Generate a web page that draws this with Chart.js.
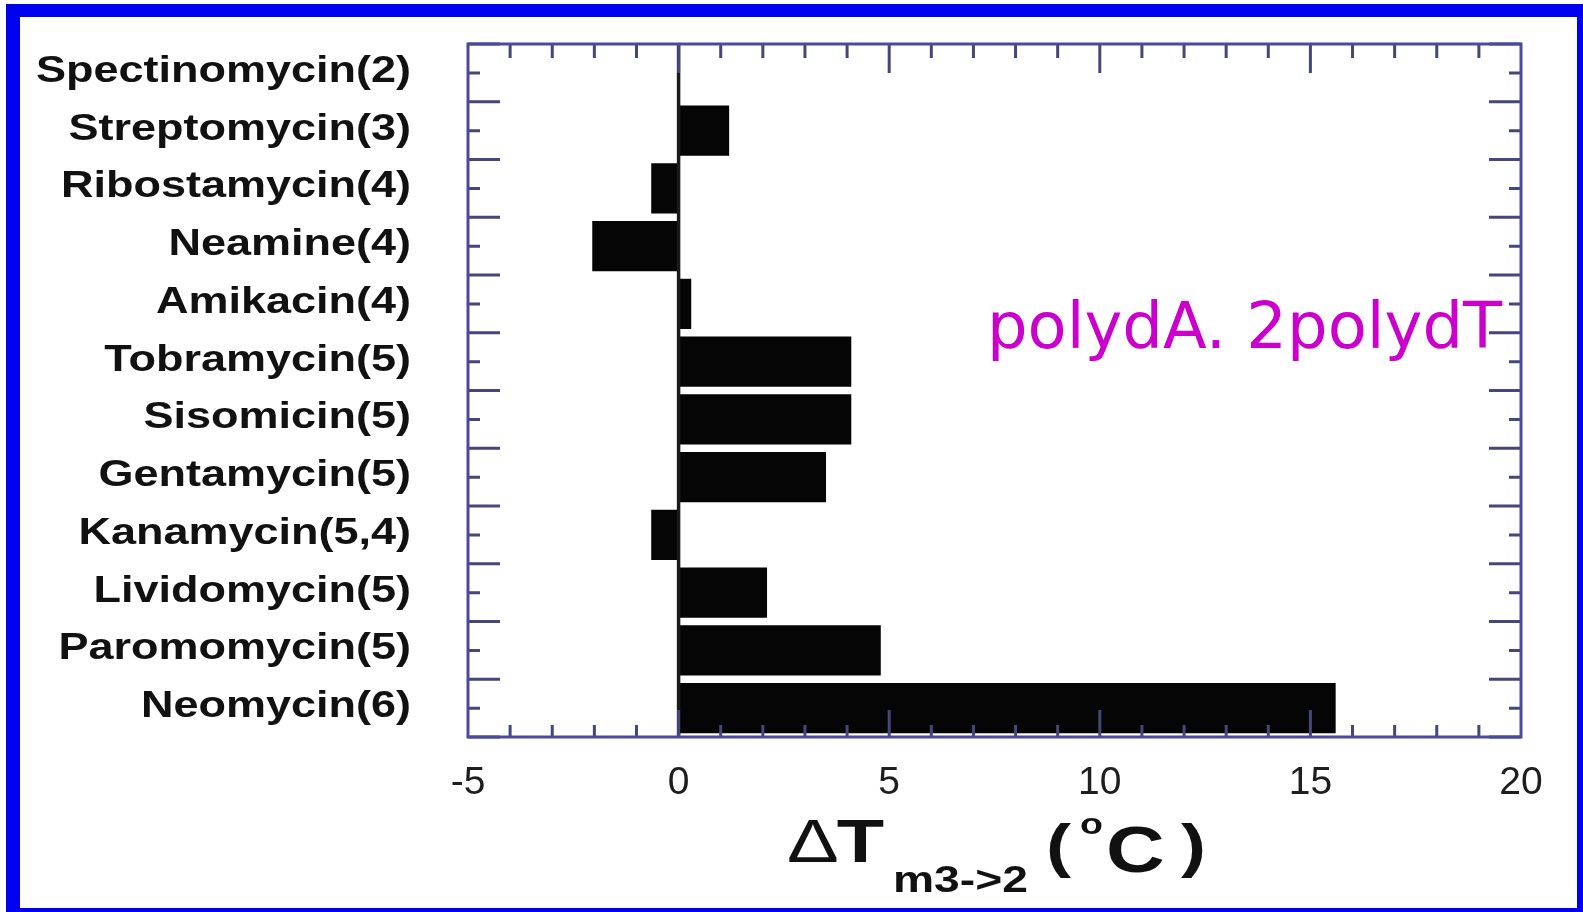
<!DOCTYPE html>
<html>
<head>
<meta charset="utf-8">
<title>polydA.2polydT</title>
<script src="https://cdn.jsdelivr.net/npm/chart.js@4/dist/chart.umd.min.js"></script>
<style>
  html, body { margin: 0; padding: 0; background: #fff; }
  #wrap { position: relative; width: 1583px; height: 912px; }
</style>
</head>
<body>
<div id="wrap"><canvas id="myBarChart"></canvas></div>
<script>
// data
let drugNames = [
  "Spectinomycin(2)", "Streptomycin(3)", "Ribostamycin(4)", "Neamine(4)",
  "Amikacin(4)", "Tobramycin(5)", "Sisomicin(5)", "Gentamycin(5)",
  "Kanamycin(5,4)", "Lividomycin(5)", "Paromomycin(5)", "Neomycin(6)"
];
let deltaTm = [0, 1.2, -0.65, -2.05, 0.3, 4.1, 4.1, 3.5, -0.65, 2.1, 4.8, 15.6];
let xTickValues = [-5, 0, 5, 10, 15, 20];
let annotationText = "polydA. 2polydT";

let frameColor = "#4a4a9c";
let tickColor = "#46467a";
let stretch = 1.25; // the scanned figure is a bit wide

function stretchedText(ctx, text, x, y, font, align) {
  ctx.save();
  ctx.font = font;
  let w = ctx.measureText(text).width * stretch;
  let left = align === "right" ? x - w : x;
  ctx.translate(left, y);
  ctx.scale(stretch, 1);
  ctx.textAlign = "left";
  ctx.fillText(text, 0, 0);
  ctx.restore();
  return w;
}

const framePlugin = {
  id: "framePlugin",
  beforeDraw(chart) {
    let ctx = chart.ctx;
    ctx.save();
    ctx.fillStyle = "#ffffff";
    ctx.fillRect(0, 0, chart.width, chart.height);
    // blue border of the slide
    ctx.fillStyle = "#0000f0";
    ctx.fillRect(6, 4, chart.width - 6, 13);
    ctx.fillRect(6, 4, 14, chart.height - 4);
    ctx.fillRect(chart.width - 6, 4, 6, chart.height - 4);
    ctx.fillRect(6, chart.height - 4, chart.width - 6, 4);
    ctx.restore();
  },
  afterDatasetsDraw(chart) {
    let ctx = chart.ctx;
    let area = chart.chartArea;
    let xs = chart.scales.x;
    let ys = chart.scales.y;

    ctx.save();
    // zero line
    let x0 = xs.getPixelForValue(0);
    ctx.strokeStyle = "#1a1a1a";
    ctx.lineWidth = 3.5;
    ctx.beginPath();
    ctx.moveTo(x0, area.top);
    ctx.lineTo(x0, area.bottom);
    ctx.stroke();

    // x ticks, top and bottom, pointing inward
    ctx.strokeStyle = tickColor;
    ctx.lineWidth = 3;
    for (let v = xs.min + 1; v < xs.max; v++) {
      let px = xs.getPixelForValue(v);
      let major = v % 5 === 0;
      ctx.beginPath();
      ctx.moveTo(px, area.top);
      ctx.lineTo(px, area.top + (major ? 29 : 14));
      ctx.moveTo(px, area.bottom);
      ctx.lineTo(px, area.bottom - (major ? 27 : 12));
      ctx.stroke();
    }

    // y ticks, left and right: long at category edges, short at centers
    for (let i = 0; i <= drugNames.length; i++) {
      let py = ys.getPixelForValue(i - 0.5);
      ctx.beginPath();
      ctx.moveTo(area.left, py);
      ctx.lineTo(area.left + 32, py);
      ctx.moveTo(area.right, py);
      ctx.lineTo(area.right - 32, py);
      ctx.stroke();
    }
    for (let i = 0; i < drugNames.length; i++) {
      let py = ys.getPixelForValue(i);
      ctx.beginPath();
      ctx.moveTo(area.left, py);
      ctx.lineTo(area.left + 12, py);
      ctx.moveTo(area.right, py);
      ctx.lineTo(area.right - 12, py);
      ctx.stroke();
    }

    // frame
    ctx.strokeStyle = frameColor;
    ctx.lineWidth = 3;
    ctx.strokeRect(area.left, area.top, area.right - area.left, area.bottom - area.top);

    // category labels
    ctx.fillStyle = "#111";
    ctx.textBaseline = "alphabetic";
    for (let i = 0; i < drugNames.length; i++) {
      let py = ys.getPixelForValue(i);
      stretchedText(ctx, drugNames[i], area.left - 57, py + 9,
        'bold 36px "Liberation Sans", Arial, sans-serif', "right");
    }

    // x axis title: ΔT m3->2 (°C)
    let tx = 787;
    let w = stretchedText(ctx, "\u0394", tx, 862, '62px "Liberation Sans", Arial, sans-serif', "left");
    stretchedText(ctx, "T", tx + w - 2, 862, 'bold 62px "Liberation Sans", Arial, sans-serif', "left");
    stretchedText(ctx, "m3->2", 893, 892, 'bold 37px "Liberation Sans", Arial, sans-serif', "left");
    stretchedText(ctx, "(", 1046, 866, 'bold 60px "Liberation Sans", Arial, sans-serif', "left");
    stretchedText(ctx, "o", 1080, 834, 'bold 30px "Liberation Sans", Arial, sans-serif', "left");
    stretchedText(ctx, "C", 1106, 872, 'bold 65px "Liberation Sans", Arial, sans-serif', "left");
    stretchedText(ctx, ")", 1181, 866, 'bold 60px "Liberation Sans", Arial, sans-serif', "left");

    // magenta annotation inside the plot
    ctx.fillStyle = "#cc00cc";
    ctx.font = '64px "DejaVu Sans", sans-serif';
    ctx.textAlign = "left";
    ctx.fillText(annotationText, xs.getPixelForValue(7.32), ys.getPixelForValue(4.76));
    ctx.restore();
  },
};

let chart1 = document.getElementById("myBarChart").getContext("2d");

const myChart1 = new Chart(chart1, {
  type: "bar",
  data: {
    labels: drugNames,
    datasets: [
      {
        data: deltaTm,
        backgroundColor: "#050505",
        borderWidth: 0,
        barPercentage: 0.87,
        categoryPercentage: 1,
      },
    ],
  },
  options: {
    indexAxis: "y",
    responsive: true,
    maintainAspectRatio: false,
    animation: false,
    layout: { padding: { top: 44, right: 62, left: 0, bottom: 0 } },
    plugins: {
      legend: { display: false },
      tooltip: { enabled: false },
    },
    scales: {
      x: {
        min: -5,
        max: 20,
        grid: { display: false, drawTicks: false },
        border: { display: false },
        ticks: {
          stepSize: 5,
          padding: 23,
          color: "#1e1e1e",
          font: { family: '"Liberation Sans", Arial, sans-serif', size: 39 },
        },
        afterBuildTicks: (s) => {
          s.ticks = xTickValues.map((v) => ({ value: v }));
        },
        afterFit: (s) => {
          s.height = 175;
        },
      },
      y: {
        grid: { display: false, drawTicks: false },
        border: { display: false },
        ticks: { display: false },
        afterFit: (s) => {
          s.width = 468;
        },
      },
    },
  },
  plugins: [framePlugin],
});
</script>
</body>
</html>
